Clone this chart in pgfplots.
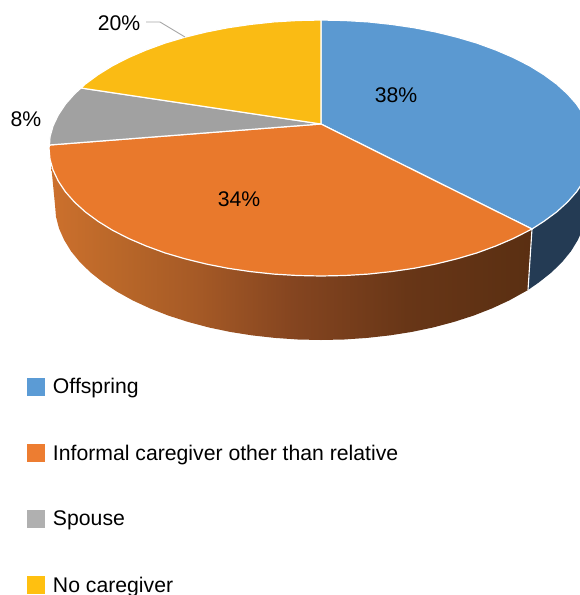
\documentclass[border=0pt]{standalone}
\usepackage{pgfplots}
\pgfplotsset{compat=1.18}
\usepackage{fontspec}
\setmainfont{Liberation Sans}
\definecolor{cblue}{HTML}{5B99D1}
\definecolor{corange}{HTML}{E9792C}
\definecolor{cgray}{HTML}{A1A1A1}
\definecolor{cyellow}{HTML}{FABB14}
\definecolor{lblue}{HTML}{5B9BD5}
\definecolor{lorange}{HTML}{ED7D31}
\definecolor{lgray}{HTML}{B0B0B0}
\definecolor{lyellow}{HTML}{FFC010}
\definecolor{sideblue}{HTML}{243B54}
\definecolor{sa}{HTML}{CC702D}
\definecolor{sb}{HTML}{B96729}
\definecolor{sc}{HTML}{A65A26}
\definecolor{sd}{HTML}{854520}
\definecolor{se}{HTML}{683617}
\definecolor{sf}{HTML}{5A2F12}
\pgfdeclarehorizontalshading{orangeside}{100bp}{
  color(0bp)=(sa); color(25bp)=(sa);
  color(32bp)=(sb); color(40bp)=(sc);
  color(50bp)=(sd); color(62bp)=(se);
  color(75bp)=(sf); color(100bp)=(sf)}
\begin{document}
\begin{tikzpicture}
\clip[use as bounding box] (0,0) rectangle (580pt,595pt);
\begin{axis}[
  at={(0,0)}, anchor=south west,
  width=580pt, height=595pt, scale only axis,
  xmin=0, xmax=580, ymin=0, ymax=595, y dir=reverse,
  axis lines=none,
  font=\fontsize{21.2pt}{25pt}\selectfont,
  legend image code/.code={\path[#1,draw=none] (0pt,-9pt) rectangle (18pt,9pt);},
  legend cell align=left,
  legend style={at={(axis cs:27,376.5)}, anchor=north west, draw=none, fill=none,
    row sep=45.4pt, inner sep=0pt, outer sep=0pt,
    /tikz/every odd column/.append style={column sep=6pt},
    font=\fontsize{21.2pt}{25pt}\selectfont},
]
% side walls
\addplot[forget plot, shade, shading=orangeside, draw=none] coordinates {
 (51,163.5)(55,205)(56,216.8)(59,228.4)(64.1,239.9)(71,251.2)(79.9,262.1)(90.6,272.5)(103.1,282.4)(117.2,291.8)(132.9,300.5)(150,308.4)(168.4,315.6)(188,321.9)(208.6,327.4)(230,331.9)(252.2,335.4)(274.8,337.9)(297.8,339.5)(321,340)(344.2,339.5)(367.2,337.9)(389.8,335.4)(412,331.9)(433.4,327.4)(454,321.9)(473.6,315.6)(492,308.4)(509.1,300.5)(528,290)
 (532,229)(513.3,238.5)(495.8,246)(477,252.9)(457,258.8)(435.9,264)(414,268.3)(391.4,271.6)(368.2,274.1)(344.7,275.5)(321,276)(297.3,275.5)(273.8,274.1)(250.6,271.6)(228,268.3)(206.1,264)(185,258.8)(165,252.9)(146.2,246)(128.7,238.5)(112.6,230.3)(98.2,221.4)(85.4,212)(74.5,202.1)(65.4,191.8)(58.3,181.1)(53.1,170.2)
} -- cycle;
\addplot[forget plot, fill=sideblue, draw=none] coordinates {
 (532,229)(528,290)(538.9,282.4)(551.4,272.5)(562.1,262.1)(571,251.2)(577.9,239.9)(583,228.4)(593,205)(593,148)(592,159.2)(588.9,170.2)(583.7,181.1)(576.6,191.8)(567.5,202.1)(556.6,212)(543.8,221.4)
} -- cycle;
\addplot[forget plot, white, line width=1.1pt] coordinates {(532,229)(528,290)};
% top slices
\addplot[forget plot, fill=cblue, draw=white, line width=1.2pt, line join=round] coordinates {
 (321,124)(321,20)(344.7,20.5)(368.2,21.9)(391.4,24.4)(414,27.7)(435.9,32)(457,37.2)(477,43.1)(495.8,50)(513.3,57.5)(529.4,65.7)(543.8,74.6)(556.6,84)(567.5,93.9)(576.6,104.2)(583.7,114.9)(588.9,125.8)(592,136.8)(593,148)(592,159.2)(588.9,170.2)(583.7,181.1)(576.6,191.8)(567.5,202.1)(556.6,212)(543.8,221.4)(532,229)
} -- cycle;
\addplot[forget plot, fill=corange, draw=white, line width=1.2pt, line join=round] coordinates {
 (321,124)(532,229)(513.3,238.5)(495.8,246)(477,252.9)(457,258.8)(435.9,264)(414,268.3)(391.4,271.6)(368.2,274.1)(344.7,275.5)(321,276)(297.3,275.5)(273.8,274.1)(250.6,271.6)(228,268.3)(206.1,264)(185,258.8)(165,252.9)(146.2,246)(128.7,238.5)(112.6,230.3)(98.2,221.4)(85.4,212)(74.5,202.1)(65.4,191.8)(58.3,181.1)(53.1,170.2)(50,159.2)(49,148)(49.5,145)
} -- cycle;
\addplot[forget plot, fill=cgray, draw=white, line width=1.2pt, line join=round] coordinates {
 (321,124)(49.5,145)(50,136.8)(53.1,125.8)(58.3,114.9)(65.4,104.2)(74.5,93.9)(81,88)
} -- cycle;
\addplot[forget plot, fill=cyellow, draw=white, line width=1.2pt, line join=round] coordinates {
 (321,124)(81,88)(85.4,84)(98.2,74.6)(112.6,65.7)(128.7,57.5)(146.2,50)(165,43.1)(185,37.2)(206.1,32)(228,27.7)(250.6,24.4)(273.8,21.9)(297.3,20.5)(321,20)
} -- cycle;
% leader line
\addplot[forget plot, color=black!35, line width=0.9pt] coordinates {(146,22)(160,22)(185,37)};
% labels
\node at (axis cs:396,95) {38\%};
\node at (axis cs:239,199) {34\%};
\node at (axis cs:26,119) {8\%};
\node at (axis cs:119,23) {20\%};
% legend
\addlegendimage{fill=lblue}
\addlegendentry{Offspring}
\addlegendimage{fill=lorange}
\addlegendentry{Informal caregiver other than relative}
\addlegendimage{fill=lgray}
\addlegendentry{Spouse}
\addlegendimage{fill=lyellow}
\addlegendentry{No caregiver}
\end{axis}
\end{tikzpicture}
\end{document}
